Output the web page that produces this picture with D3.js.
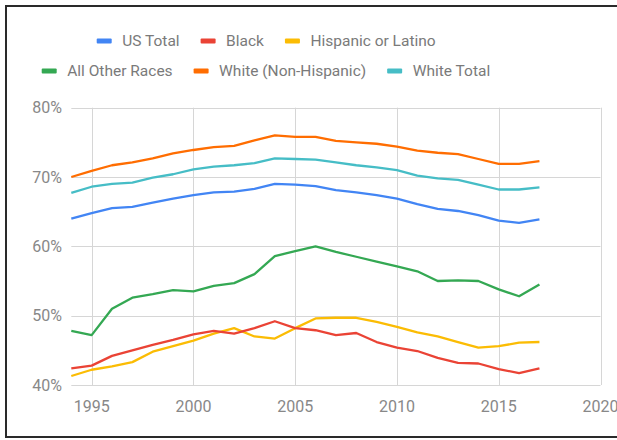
<!DOCTYPE html>
<html>
<head>
<meta charset="utf-8">
<script src="https://cdn.jsdelivr.net/npm/d3@7"></script>
<style>
	body { margin: 0; background: #fff; font-family: Roboto, "Noto Sans", sans-serif; }
	svg.chart { display: block; }
</style>
</head>
<body>
<svg class="chart"></svg>
<script>
var years = [1994, 1995, 1996, 1997, 1998, 1999, 2000, 2001, 2002, 2003, 2004, 2005,
	2006, 2007, 2008, 2009, 2010, 2011, 2012, 2013, 2014, 2015, 2016, 2017];
var seriesNames = ['US Total', 'Black', 'Hispanic or Latino', 'All Other Races', 'White (Non-Hispanic)', 'White Total'];
var seriesColors = ['#4285f4', '#ea4335', '#fbbc04', '#34a853', '#ff6d01', '#46bdc6'];
var usTotal = [64.0, 64.8, 65.5, 65.7, 66.3, 66.9, 67.4, 67.8, 67.9, 68.3, 69.0, 68.9,
	68.7, 68.1, 67.8, 67.4, 66.9, 66.1, 65.4, 65.1, 64.5, 63.7, 63.4, 63.9];
var black = [42.4, 42.8, 44.2, 45.0, 45.8, 46.5, 47.3, 47.8, 47.4, 48.2, 49.2, 48.2,
	47.9, 47.2, 47.5, 46.2, 45.4, 44.9, 43.9, 43.2, 43.1, 42.3, 41.7, 42.4];
var hispanic = [41.3, 42.2, 42.7, 43.3, 44.8, 45.6, 46.4, 47.4, 48.2, 47.0, 46.7, 48.2,
	49.6, 49.7, 49.7, 49.1, 48.4, 47.6, 47.0, 46.2, 45.4, 45.6, 46.1, 46.2];
var otherRaces = [47.8, 47.2, 51.0, 52.6, 53.1, 53.7, 53.5, 54.3, 54.7, 56.0, 58.6, 59.3,
	60.0, 59.2, 58.5, 57.8, 57.1, 56.4, 55.0, 55.1, 55.0, 53.8, 52.8, 54.5];
var whiteNonHisp = [70.0, 70.9, 71.7, 72.1, 72.7, 73.4, 73.9, 74.3, 74.5, 75.3, 76.0, 75.8,
	75.8, 75.2, 75.0, 74.8, 74.4, 73.8, 73.5, 73.3, 72.6, 71.9, 71.9, 72.3];
var whiteTotal = [67.7, 68.6, 69.0, 69.2, 69.9, 70.4, 71.1, 71.5, 71.7, 72.0, 72.7, 72.6,
	72.5, 72.1, 71.7, 71.4, 71.0, 70.2, 69.8, 69.6, 68.9, 68.2, 68.2, 68.5];
var xTicks = [1995, 2000, 2005, 2010, 2015, 2020];
var yTicks = [40, 50, 60, 70, 80];

var chart = {
	initialize: function(){
		var self = this;
		self._render_view();
		return self;
	},
	_render_view: function(){
		var width = 617;
		var height = 440;
		var allValues = [usTotal, black, hispanic, otherRaces, whiteNonHisp, whiteTotal];

		var svg = d3.select('svg.chart')
			.attr('width', width)
			.attr('height', height);

		// frame round the whole picture, open on the right
		svg.append('path')
			.attr('d', 'M' + width + ',6H6V437H' + width)
			.attr('fill', 'none')
			.attr('stroke', '#2a2a2a')
			.attr('stroke-width', 2);

		var x = d3.scaleLinear().domain([1994, 2020]).range([71.3, 600.5]);
		var y = d3.scaleLinear().domain([40, 80]).range([385, 107.7]);

		var grid = svg.append('g').attr('class', 'grid');
		grid.selectAll('.hgrid')
			.data(yTicks)
			.enter()
			.append('line')
			.attr('x1', x(1994))
			.attr('x2', x(2020))
			.attr('y1', function(d){ return Math.round(y(d)) + 0.5; })
			.attr('y2', function(d){ return Math.round(y(d)) + 0.5; })
			.attr('stroke', '#d6d6d6');
		grid.selectAll('.vgrid')
			.data(xTicks)
			.enter()
			.append('line')
			.attr('x1', function(d){ return Math.round(x(d)) + 0.5; })
			.attr('x2', function(d){ return Math.round(x(d)) + 0.5; })
			.attr('y1', y(80))
			.attr('y2', y(40))
			.attr('stroke', '#d6d6d6');

		svg.append('g')
			.selectAll('text')
			.data(yTicks)
			.enter()
			.append('text')
			.attr('x', 62)
			.attr('y', function(d){ return y(d); })
			.attr('dy', '0.35em')
			.attr('text-anchor', 'end')
			.attr('font-size', 16)
			.attr('fill', '#888')
			.text(function(d){ return d + '%'; });

		svg.append('g')
			.selectAll('text')
			.data(xTicks)
			.enter()
			.append('text')
			.attr('x', function(d){ return x(d); })
			.attr('y', 412)
			.attr('text-anchor', 'middle')
			.attr('font-size', 16)
			.attr('fill', '#888')
			.text(function(d){ return d; });

		var line = d3.line()
			.x(function(d, i){ return x(years[i]); })
			.y(function(d){ return y(d); });

		// draw order so that the later series sit on top like the original
		var order = [3, 2, 1, 0, 5, 4];
		svg.append('g')
			.selectAll('path')
			.data(order)
			.enter()
			.append('path')
			.attr('d', function(k){ return line(allValues[k]); })
			.attr('fill', 'none')
			.attr('stroke', function(k){ return seriesColors[k]; })
			.attr('stroke-width', 2.3)
			.attr('stroke-linejoin', 'round');

		// legend, two centred rows
		var rows = [[0, 1, 2], [3, 4, 5]];
		var rowY = [41, 71];
		var legend = svg.append('g').attr('class', 'legend');
		rows.forEach(function(row, r){
			var g = legend.append('g');
			var cursor = 0;
			row.forEach(function(k){
				var item = g.append('g').attr('transform', 'translate(' + cursor + ',0)');
				item.append('rect')
					.attr('x', 0)
					.attr('y', rowY[r] - 2.5)
					.attr('width', 15)
					.attr('height', 5)
					.attr('rx', 1)
					.attr('fill', seriesColors[k]);
				var t = item.append('text')
					.attr('x', 25.5)
					.attr('y', rowY[r])
					.attr('dy', '0.35em')
					.attr('font-size', 15.5)
					.attr('fill', '#7a7a7a')
					.text(seriesNames[k]);
				cursor += 25.5 + t.node().getComputedTextLength() + 21;
			});
			var start = r == 0 ? 96.7 : 41.7;
			g.attr('transform', 'translate(' + start + ',0)');
		});
	}
};

chart.initialize();
</script>
</body>
</html>
